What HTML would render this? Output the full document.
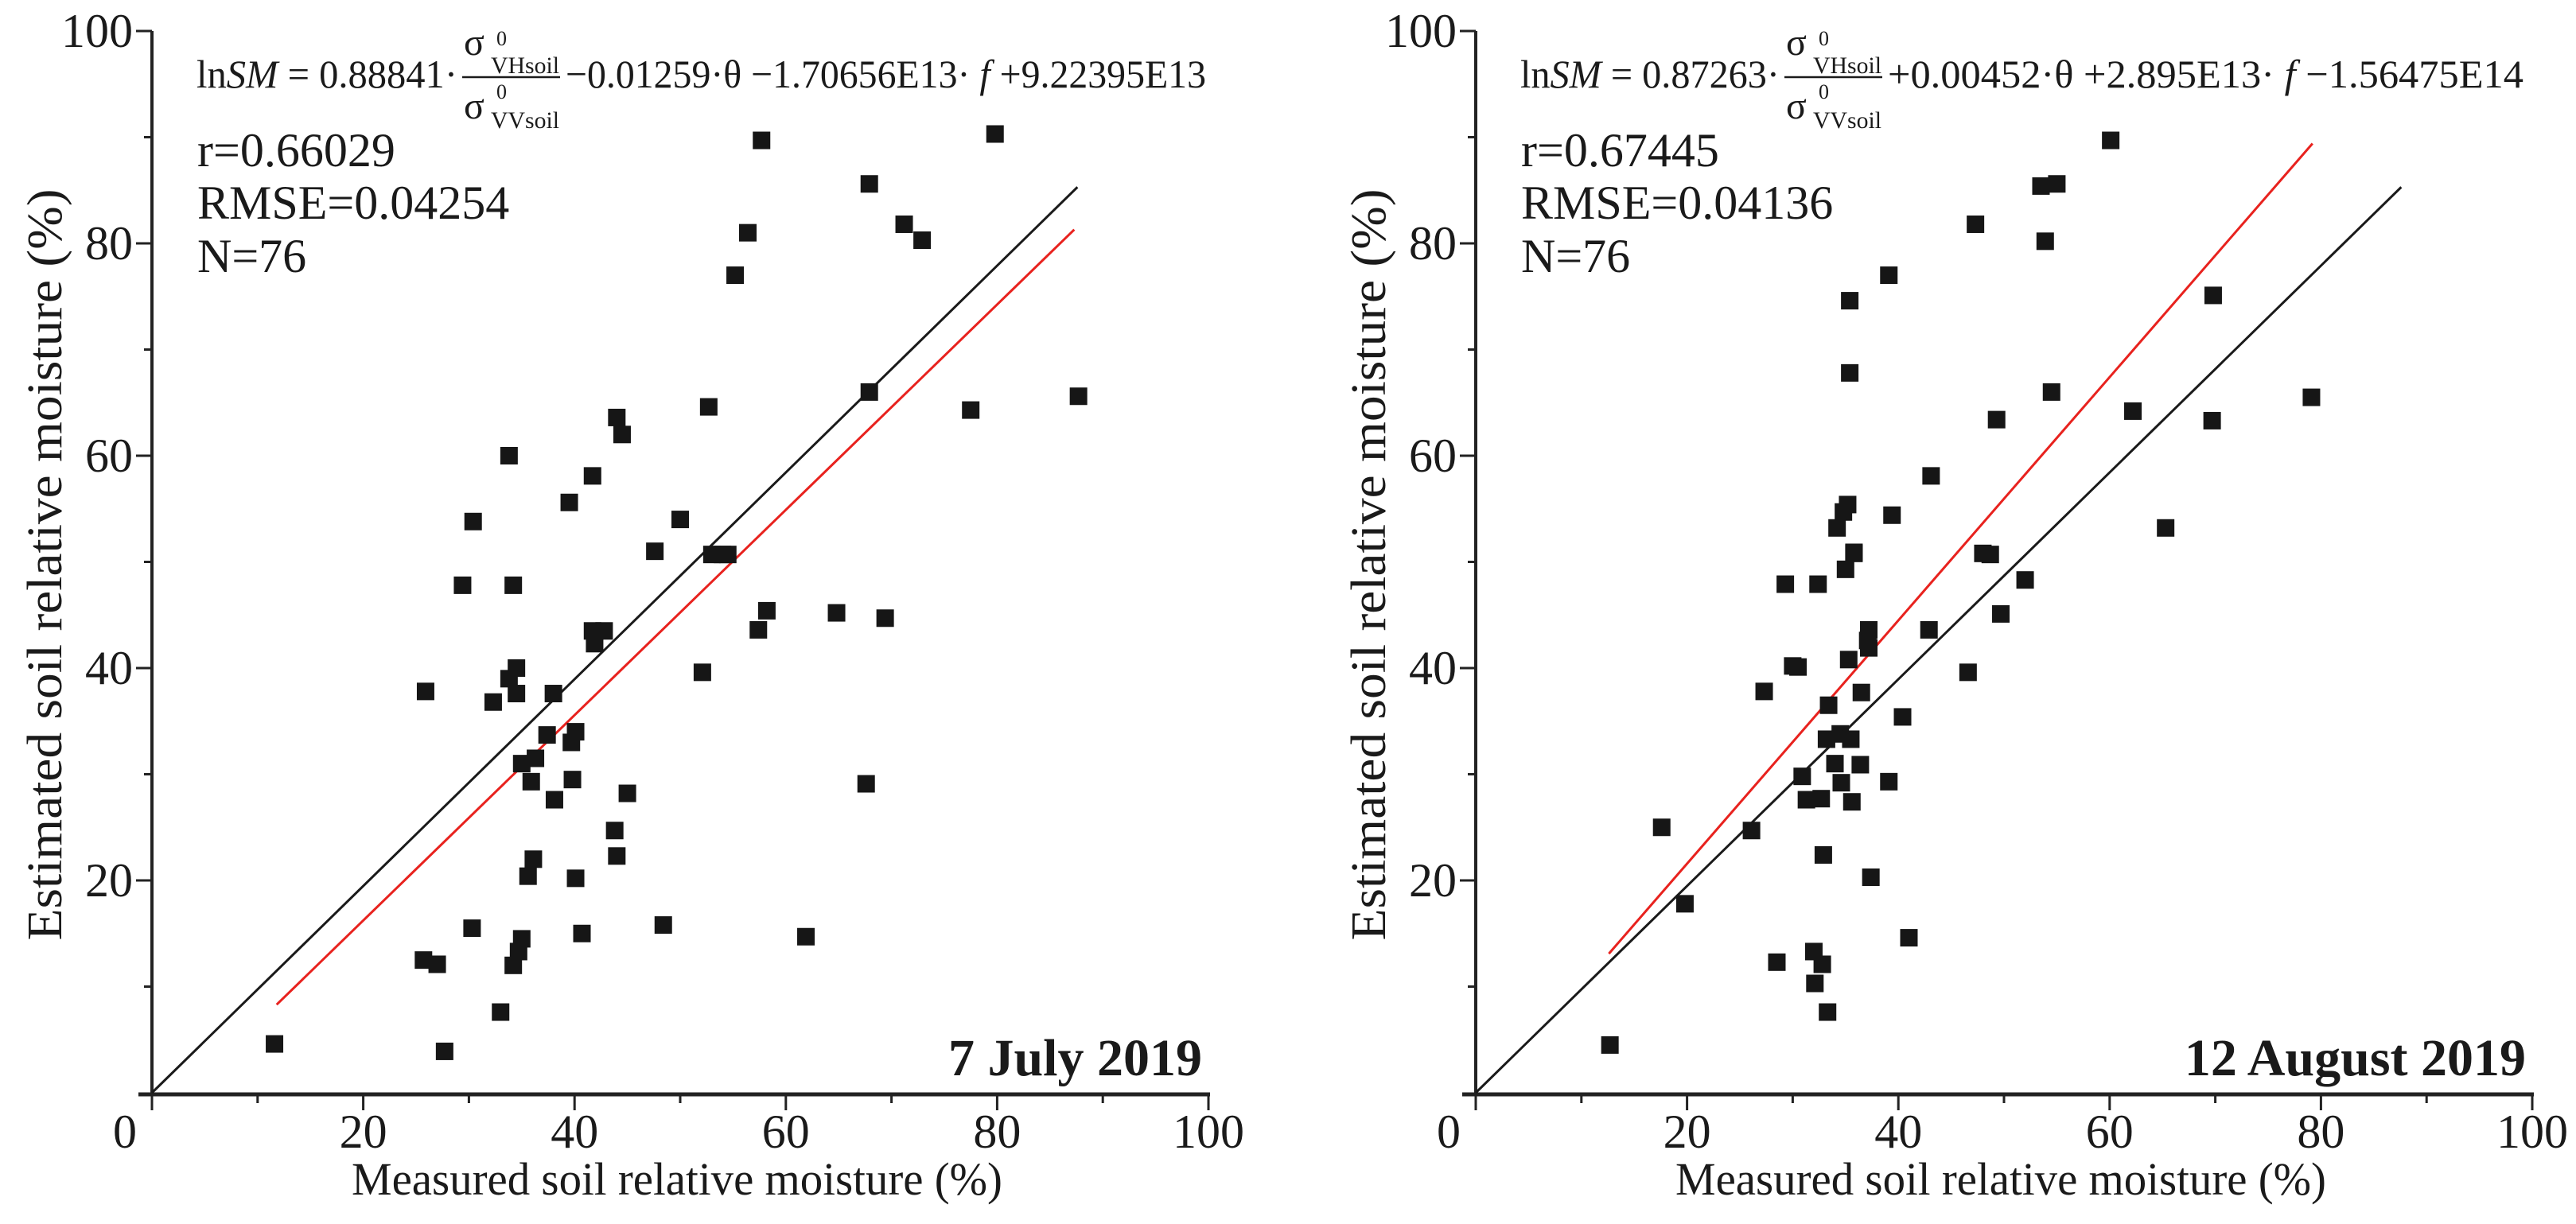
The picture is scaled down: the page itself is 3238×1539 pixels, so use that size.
<!DOCTYPE html>
<html><head><meta charset="utf-8"><style>
html,body{margin:0;padding:0;background:#fff;}
svg{display:block;}
text{font-family:"Liberation Serif",serif;fill:#1a1a1a;}
</style></head><body>
<svg id="fig" width="3238" height="1539" viewBox="0 0 3238 1539" xmlns="http://www.w3.org/2000/svg">
<g id="p0"></g>
<g id="p1"></g>
</svg>
<script>
const xTicks = [0,20,40,60,80,100];
const yTicks = [20,40,60,80,100];
const julyMeasured = [11.6,25.7,27.0,27.7,25.9,29.4,30.4,30.3,32.3,33.0,33.8,34.2,33.8,34.5,34.5,34.2,34.7,35.0,35.0,35.6,35.9,36.1,36.3,37.4,38.0,38.1,39.5,39.7,39.8,40.1,40.1,40.7,41.7,41.7,41.9,42.8,43.8,44.0,44.0,44.5,45.0,47.6,48.4,50.0,52.1,52.7,53.0,54.0,54.5,55.2,56.4,57.4,57.7,58.2,61.9,64.8,67.6,67.9,67.9,69.4,71.2,72.9,77.5,79.8,87.7];
const julyEstimated = [4.6,12.5,12.1,3.9,37.8,47.8,53.8,15.5,36.8,7.6,60.0,47.8,39.0,40.0,37.6,12.0,13.3,14.5,31.0,20.4,29.3,22.0,31.5,33.7,37.6,27.6,55.6,33.0,29.5,34.0,20.2,15.0,58.1,43.5,42.3,43.5,24.7,63.6,22.3,62.0,28.2,51.0,15.8,54.0,39.6,64.6,50.7,50.7,50.7,77.0,81.0,43.6,89.7,45.4,14.7,45.2,29.1,85.6,66.0,44.7,81.8,80.3,64.3,90.3,65.6];
const augMeasured = [12.7,17.6,19.8,26.1,28.5,27.3,29.3,32.4,30.0,30.5,30.9,31.3,32.7,32.0,32.8,32.1,33.3,32.9,33.4,33.2,34.5,35.5,34.0,36.4,34.6,35.6,35.0,35.8,35.3,36.5,37.2,37.1,37.2,37.4,39.1,40.4,41.0,42.9,46.6,48.0,48.7,49.7,52.0,60.1,53.5,55.0,47.3,53.9,39.1,35.4,35.4,69.8,54.5,49.3,62.2,69.7,79.1,43.1,35.2,34.8,34.2,39.4,35.8,65.3];
const augEstimated = [4.5,25.0,17.8,24.7,12.3,37.8,47.9,47.9,40.2,40.1,29.8,27.6,27.7,13.3,12.1,10.3,7.6,22.4,36.5,33.3,33.8,33.3,31.0,30.9,29.2,27.4,49.3,50.9,40.8,37.7,43.6,42.6,41.9,20.3,29.3,35.4,14.6,43.6,39.6,50.8,50.7,45.1,48.3,89.7,85.4,85.6,81.8,80.2,77.0,74.6,67.8,75.1,66.0,63.4,64.2,63.3,65.5,58.1,55.4,54.7,53.2,54.4,50.8,53.2];
const refLineX = [0,87.6];
const refLineY = [0,85.3];
const julyFitX = [11.8,87.3];
const julyFitY = [8.3,81.3];
const augFitX = [12.6,79.2];
const augFitY = [13.1,89.4];
const panelDates = ["7 July 2019","12 August 2019"];
const panelR = ["r=0.66029","r=0.67445"];
const panelRMSE = ["RMSE=0.04254","RMSE=0.04136"];
const panelN = ["N=76","N=76"];

const NS="http://www.w3.org/2000/svg";
const Y0=1374, YPER=13.35, XPER=13.28;
function mk(tag,parent,attrs,text){const e=document.createElementNS(NS,tag);for(const k in attrs)e.setAttribute(k,attrs[k]);if(text!==undefined)e.textContent=text;parent.appendChild(e);return e;}

function drawPanel(idx,gid,x0,mx,my,fx,fy,eq){
  const g=document.getElementById(gid);
  const sx=v=>x0+v*XPER, sy=v=>Y0-v*YPER;
  // axes
  let a=mk('line',g,{x1:x0,y1:sy(100),x2:x0,y2:1378,stroke:'#222','stroke-width':4});
  
  
  a=mk('line',g,{x1:x0-17,y1:1376,x2:sx(100)+2,y2:1376,stroke:'#222','stroke-width':5});
  
  
  for(let v=0;v<=100;v+=10){
    const major=v%20===0;
    let t=mk('line',g,{x1:sx(v),y1:1376,x2:sx(v),y2:1376+(major?20:11),stroke:'#222','stroke-width':3});
    
    
    if(v>0){
      t=mk('line',g,{x1:x0-(major?20:10),y1:sy(v),x2:x0,y2:sy(v),stroke:'#222','stroke-width':3});
      
      
    }
  }
  xTicks.forEach(v=>{
    const xx = v===0 ? x0-34 : sx(v);
    const t=mk('text',g,{x:xx,y:1443,'font-size':60,'text-anchor':'middle'},String(v));
    
    
  });
  yTicks.forEach(v=>{
    const t=mk('text',g,{x:x0-24,y:sy(v)+20,'font-size':60,'text-anchor':'end'},String(v));
    
    
  });
  let t=mk('text',g,{x:x0+251,y:1502,'font-size':58,textLength:818,lengthAdjust:'spacingAndGlyphs'},'Measured soil relative moisture (%)');
  
  
  t=mk('text',g,{x:0,y:0,'font-size':62,textLength:945,lengthAdjust:'spacingAndGlyphs','text-anchor':'middle',transform:`translate(${x0-114},710) rotate(-90)`},'Estimated soil relative moisture (%)');
  
  
  // lines
  let l=mk('line',g,{x1:sx(refLineX[0]),y1:sy(refLineY[0]),x2:sx(refLineX[1]),y2:sy(refLineY[1]),stroke:'#1a1a1a','stroke-width':3});
  
  
  l=mk('line',g,{x1:sx(fx[0]),y1:sy(fy[0]),x2:sx(fx[1]),y2:sy(fy[1]),stroke:'#e8221e','stroke-width':3});
  
  
  // points
  for(let i=0;i<mx.length;i++){
    const r=mk('rect',g,{x:sx(mx[i])-11,y:sy(my[i])-11,width:22,height:22,fill:'#161616'});
    
    
  }
  // stats
  [[panelR[idx],209],[panelRMSE[idx],275],[panelN[idx],342]].forEach(([s,y],k)=>{
    const e=mk('text',g,{x:x0+57,y:y,'font-size':60},s);
    
    
  });
  t=mk('text',g,{x:x0+1320,y:1352,'font-size':66,'font-weight':'bold','text-anchor':'end'},panelDates[idx]);
  
  
  // equation
  const eg=mk('g',g,{});
  
  
  const e1=mk('text',eg,{x:x0+56,y:110,'font-size':50,textLength:eq.w1,lengthAdjust:'spacingAndGlyphs'});
  mk('tspan',e1,{},'ln');mk('tspan',e1,{'font-style':'italic'},'SM');mk('tspan',e1,{},' = '+eq.c1+'·');
  const bx=x0+56+eq.w1+6;
  mk('text',eg,{x:bx+2,y:69,'font-size':48},'σ');
  mk('text',eg,{x:bx+43,y:57,'font-size':26},'0');
  mk('text',eg,{x:bx+36,y:92,'font-size':30,textLength:86,lengthAdjust:'spacingAndGlyphs'},'VHsoil');
  mk('line',eg,{x1:bx,y1:97,x2:bx+123,y2:97,stroke:'#1a1a1a','stroke-width':2.5});
  mk('text',eg,{x:bx+2,y:149,'font-size':48},'σ');
  mk('text',eg,{x:bx+43,y:124,'font-size':26},'0');
  mk('text',eg,{x:bx+36,y:161,'font-size':30,textLength:86,lengthAdjust:'spacingAndGlyphs'},'VVsoil');
  const e2=mk('text',eg,{x:bx+130,y:110,'font-size':50,textLength:eq.w2,lengthAdjust:'spacingAndGlyphs'});
  mk('tspan',e2,{},eq.r1);mk('tspan',e2,{'font-style':'italic'},'f');mk('tspan',e2,{},eq.r2);
}
drawPanel(0,'p0',191,julyMeasured,julyEstimated,julyFitX,julyFitY,{c1:'0.88841',w1:328,w2:805,r1:'−0.01259·θ −1.70656E13· ',r2:' +9.22395E13'});
drawPanel(1,'p1',1855,augMeasured,augEstimated,augFitX,augFitY,{c1:'0.87263',w1:326,w2:799,r1:'+0.00452·θ +2.895E13· ',r2:' −1.56475E14'});
</script>
</body></html>
